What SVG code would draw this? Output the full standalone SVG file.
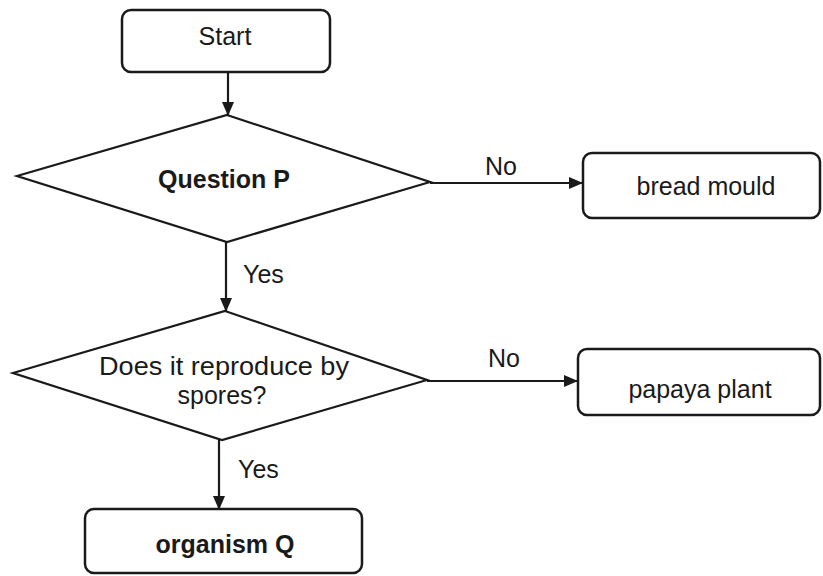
<svg xmlns="http://www.w3.org/2000/svg" width="823" height="576" viewBox="0 0 823 576">
<defs>
<style>
.box{fill:#fff;stroke:#1a1a1a;stroke-width:2.5}
.dia{fill:#fff;stroke:#1a1a1a;stroke-width:2.2}
.edge{fill:none;stroke:#1a1a1a;stroke-width:2.2}
.t{font-family:"Liberation Sans",Arial,sans-serif;font-size:25px;fill:#1a1a1a}
.b{font-weight:bold}
.m{text-anchor:middle}
</style>
<marker id="ah" markerUnits="userSpaceOnUse" markerWidth="14" markerHeight="12" refX="13" refY="6" orient="auto">
<path d="M0,0 L14,6 L0,12 Z" fill="#1a1a1a"/>
</marker>
</defs>
<rect width="823" height="576" fill="#fff"/>
<g id="connectors">
<line class="edge" x1="228" y1="72" x2="228" y2="115" marker-end="url(#ah)"/>
<line class="edge" x1="430" y1="183" x2="582" y2="183" marker-end="url(#ah)"/>
<text class="t m" x="501" y="175">No</text>
<line class="edge" x1="226" y1="242" x2="226" y2="311" marker-end="url(#ah)"/>
<text class="t" x="243" y="283">Yes</text>
<line class="edge" x1="427" y1="381" x2="577" y2="381" marker-end="url(#ah)"/>
<text class="t m" x="504" y="367">No</text>
<line class="edge" x1="219" y1="440" x2="219" y2="509" marker-end="url(#ah)"/>
<text class="t" x="238" y="478">Yes</text>
</g>
<g id="start">
<rect class="box" x="122" y="10" width="208" height="62" rx="9"/>
<text class="t m" x="225" y="45">Start</text>
</g>
<g id="questionP">
<polygon class="dia" points="227,115 430,182 227,242 17,176"/>
<text class="t b m" x="224" y="188">Question P</text>
</g>
<g id="breadMould">
<rect class="box" x="583" y="153" width="237" height="65" rx="9"/>
<text class="t m" x="706" y="195">bread mould</text>
</g>
<g id="spores">
<polygon class="dia" points="225,311 427,380 222,440 13,373"/>
<text class="t m" x="224" y="375" textLength="250" lengthAdjust="spacingAndGlyphs">Does it reproduce by</text>
<text class="t m" x="222" y="404">spores?</text>
</g>
<g id="papaya">
<rect class="box" x="578" y="349" width="242" height="66" rx="9"/>
<text class="t m" x="700" y="398">papaya plant</text>
</g>
<g id="organismQ">
<rect class="box" x="85" y="509" width="277" height="64" rx="9"/>
<text class="t b m" x="225" y="553">organism Q</text>
</g>
</svg>
